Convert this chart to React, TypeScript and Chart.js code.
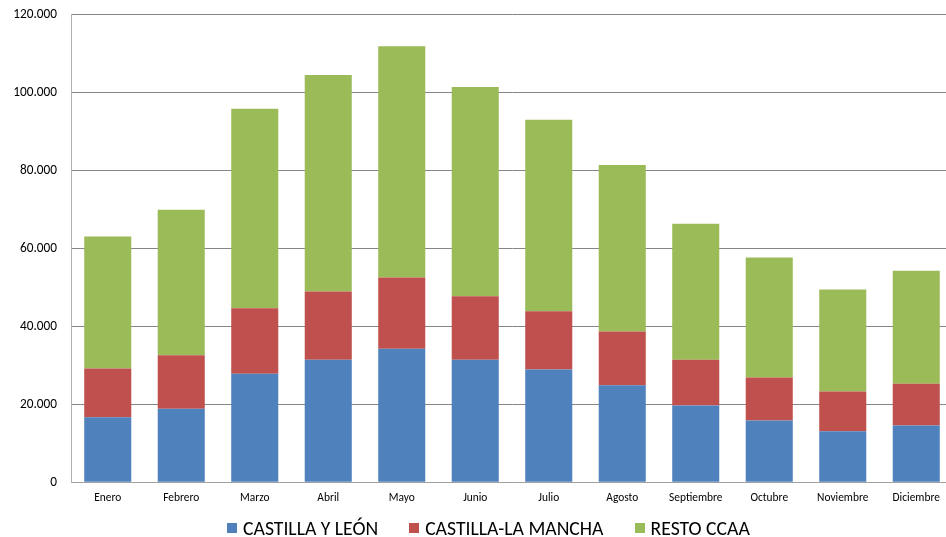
import React, { useEffect, useRef } from "react";
import { Chart, registerables } from "chart.js";

Chart.register(...registerables);

const months = ["Enero", "Febrero", "Marzo", "Abril", "Mayo", "Junio", "Julio", "Agosto", "Septiembre", "Octubre", "Noviembre", "Diciembre"];
const castillaLeon = [16700, 18900, 27900, 31500, 34300, 31500, 29000, 24900, 19700, 15900, 13100, 14600];
const castillaMancha = [12500, 13700, 16800, 17500, 18300, 16300, 14900, 13800, 11800, 11000, 10200, 10700];
const restoTotals = [63100, 70000, 95900, 104600, 112000, 101500, 93100, 81500, 66400, 57700, 49500, 54300];
const resto = restoTotals.map((t, i) => t - castillaLeon[i] - castillaMancha[i]);

const seriesNames = ["CASTILLA Y LEÓN", "CASTILLA-LA MANCHA", "RESTO CCAA"];
const seriesColors = ["#4F81BD", "#C0504D", "#9BBB59"];

const FONT = "Carlito, Lato, 'Open Sans', sans-serif";
const fmt = (v: number) => String(v).replace(/\B(?=(\d{3})+(?!\d))/g, ".");

export default function App() {
  const ref = useRef<HTMLCanvasElement>(null);
  useEffect(() => {
    document.body.style.margin = "0";
    const chart = new Chart(ref.current!, {
      type: "bar",
      data: {
        labels: months,
        datasets: [
          { label: seriesNames[0], data: castillaLeon, backgroundColor: seriesColors[0] },
          { label: seriesNames[1], data: castillaMancha, backgroundColor: seriesColors[1] },
          { label: seriesNames[2], data: resto, backgroundColor: seriesColors[2] },
        ],
      },
      options: {
        animation: false,
        responsive: false,
        layout: { padding: { top: 0, right: 2, left: 0, bottom: 24 } },
        datasets: { bar: { categoryPercentage: 1, barPercentage: 0.64 } },
        plugins: {
          tooltip: { enabled: false },
          legend: { display: false },
        },
        scales: {
          x: {
            stacked: true,
            grid: { display: false },
            border: { color: "#A0A0A0" },
            ticks: { color: "#000", font: { family: FONT, size: 11.4 }, padding: 1, maxRotation: 0, autoSkip: false },
          },
          y: {
            stacked: true,
            min: 0,
            max: 120000,
            afterFit: (s: any) => { s.width = 71; },
            ticks: {
              stepSize: 20000,
              color: "#000",
              padding: 14,
              font: { family: FONT, size: 13.3 },
              callback: (v: any) => fmt(Number(v)),
            },
            grid: { color: "#868686", drawTicks: false },
            border: { color: "#B0B0B0", width: 1 },
          },
        },
      },
    });
    return () => chart.destroy();
  }, []);
  return (
    <div style={{ position: "relative", width: 946, height: 537, overflow: "hidden" }}>
      <canvas ref={ref} width={955} height={537} style={{ display: "block", position: "absolute", left: 0, top: -7 }} />
      <div
        style={{
          position: "absolute",
          left: 227,
          top: 516,
          height: 24,
          display: "flex",
          alignItems: "center",
          fontFamily: FONT,
          fontSize: 19.7,
          color: "#000",
          whiteSpace: "nowrap",
        }}
      >
        {seriesNames.map((name, i) => (
          <div key={name} style={{ display: "flex", alignItems: "center", marginRight: i < 2 ? 31 : 0 }}>
            <span style={{ display: "inline-block", width: 10, height: 10, background: seriesColors[i], marginRight: 6 }} />
            <span>{name}</span>
          </div>
        ))}
      </div>
    </div>
  );
}
